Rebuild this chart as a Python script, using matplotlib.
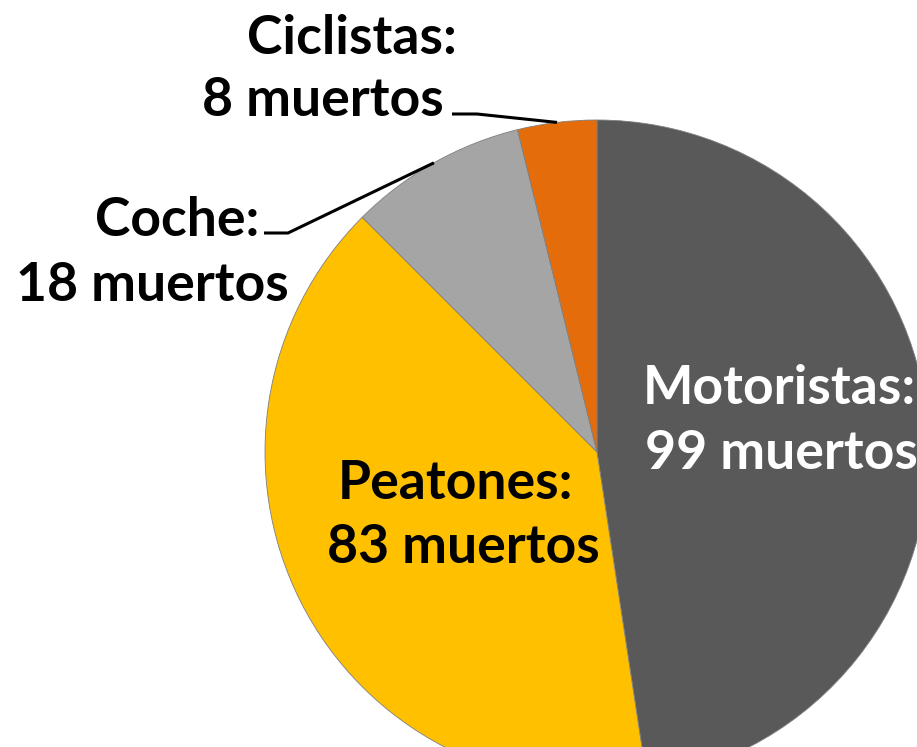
import numpy as np
import matplotlib
matplotlib.use("Agg")
import matplotlib.pyplot as plt

# --- Data ---
categories = ["Motoristas", "Peatones", "Coche", "Ciclistas"]
muertos = [99, 83, 18, 8]
colors = ["#595959", "#FFC000", "#A5A5A5", "#E46C0A"]

W, H = 917, 747
plt.rcParams['font.family'] = ['Lato', 'DejaVu Sans']

fig = plt.figure(figsize=(W / 100, H / 100), dpi=100)
ax = fig.add_axes([0, 0, 1, 1])

cx, cy, r = 597, H - 452, 332
wedges, _ = ax.pie(muertos, colors=colors, startangle=90, counterclock=False,
                   center=(cx, cy), radius=r, frame=True,
                   wedgeprops=dict(edgecolor="#7f7f7f", linewidth=0.6))
ax.set_xlim(0, W)
ax.set_ylim(0, H)
ax.set_aspect('equal')
ax.axis('off')


def edge_point(w):
    ang = np.deg2rad((w.theta1 + w.theta2) / 2)
    return cx + r * np.cos(ang), cy + r * np.sin(ang)


fs = 38.5
txt = dict(fontsize=fs, fontweight='bold', ha='center', va='baseline')

# label lines: (text, x centre, baseline y in pixels from top, colour)
labels = [
    ("Motoristas:", 779, 404, "white"), ("99 muertos", 781, 469, "white"),
    ("Peatones:", 456, 499, "black"), ("83 muertos", 463, 563, "black"),
    ("Coche:", 177, 236, "black"), ("18 muertos", 152, 301, "black"),
    ("Ciclistas:", 352, 54, "black"), ("8 muertos", 323, 116, "black"),
]
for s, x, y, c in labels:
    ax.text(x, H - y, s, color=c, **txt)

# leader lines
ex, ey = edge_point(wedges[3])
ax.plot([452, 477, ex], [H - 114, H - 114, ey], color="black", lw=2.2,
        solid_capstyle='butt')
ex, ey = edge_point(wedges[2])
ax.plot([264, 288, ex], [H - 233, H - 233, ey], color="black", lw=2.2,
        solid_capstyle='butt')

fig.savefig("out.png", dpi=100)
